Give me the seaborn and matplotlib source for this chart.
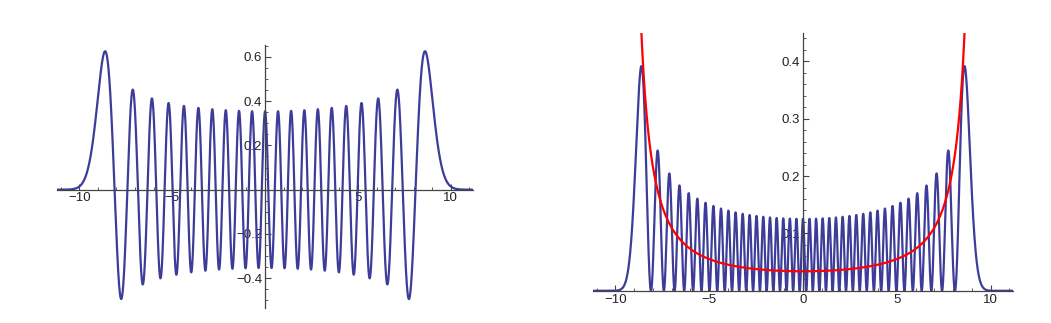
import numpy as np
import pandas as pd
import matplotlib
matplotlib.use("Agg")
import matplotlib.pyplot as plt
import seaborn as sns
from matplotlib.ticker import MultipleLocator, FixedLocator

# ---- data (oscillator state shown in the chart) ----
quantum_number = 40                 # n of the eigenstate
x_limits = [-11.2, 11.2]
left_ylim = [-0.535, 0.655]
right_ylim = [0.0, 0.45]
left_xticks = [-10, -5, 5, 10]
left_yticks = [-0.4, -0.2, 0.2, 0.4, 0.6]
right_xticks = [-10, -5, 0, 5, 10]
right_yticks = [0.1, 0.2, 0.3, 0.4]
# red envelope curve
red_center_value = 0.034
red_edge = 9.5
red_power = 1.5

x = np.linspace(x_limits[0], x_limits[1], 4000)

# Hermite function via stable recurrence (normalised to sqrt(pi), as in the figure)
psi_prev = np.zeros_like(x)
psi = np.exp(-x**2 / 2)
for k in range(quantum_number):
    psi_next = np.sqrt(2.0 / (k + 1)) * x * psi - np.sqrt(k / (k + 1.0)) * psi_prev
    psi_prev, psi = psi, psi_next
density = psi**2

xc = np.linspace(-9.0, 9.0, 3000)
red = red_center_value * (red_edge**2 / (red_edge**2 - xc**2)) ** red_power
keep = red < 0.6
df_psi = pd.DataFrame({"x": x, "psi": psi, "rho": density})
df_cl = pd.DataFrame({"x": xc[keep], "rho": red[keep]})

sns.set_style("white")
plt.rcParams["font.family"] = ["Liberation Sans", "DejaVu Sans"]

fig = plt.figure(figsize=(10.51, 3.23), dpi=100)
ax1 = fig.add_axes([0.0542, 0.0464, 0.396, 0.815])
ax2 = fig.add_axes([0.564, 0.0997, 0.40, 0.7995])

blue = "#3d3d99"
sns.lineplot(data=df_psi, x="x", y="psi", ax=ax1, color=blue, lw=1.6, sort=False)
sns.lineplot(data=df_psi, x="x", y="rho", ax=ax2, color=blue, lw=1.6, sort=False)
sns.lineplot(data=df_cl, x="x", y="rho", ax=ax2, color="red", lw=1.6, sort=False)

def style(ax, xt, yt, ylim, yminor):
    ax.set_xlim(*x_limits)
    ax.set_ylim(*ylim)
    ax.set_xlabel("")
    ax.set_ylabel("")
    for s in ["top", "right"]:
        ax.spines[s].set_visible(False)
    for s in ["left", "bottom"]:
        ax.spines[s].set_position("zero")
        ax.spines[s].set_color("#444444")
        ax.spines[s].set_linewidth(0.9)
    ax.xaxis.set_major_locator(FixedLocator(xt))
    ax.yaxis.set_major_locator(FixedLocator(yt))
    ax.xaxis.set_minor_locator(MultipleLocator(1))
    ax.yaxis.set_minor_locator(MultipleLocator(yminor))
    ax.set_xticklabels([("\u2212%g" % -v) if v < 0 else "%g" % v for v in xt])
    ax.set_yticklabels([("\u2212%g" % -v) if v < 0 else "%g" % v for v in yt])
    ax.tick_params(which="major", direction="in", length=4, width=0.8,
                   color="#444444", labelsize=9.5, labelcolor="#222222", pad=2)
    ax.tick_params(which="minor", direction="in", length=2, width=0.6,
                   color="#444444")
    ax.tick_params(axis="x", which="both", bottom=True)
    ax.tick_params(axis="y", which="both", left=True)
    ax.set_facecolor("none")

style(ax1, left_xticks, left_yticks, left_ylim, 0.05)
style(ax2, right_xticks, right_yticks, right_ylim, 0.02)
for ax in (ax1, ax2):
    l = ax.get_legend()
    if l:
        l.remove()

fig.savefig("out.png", dpi=100)
